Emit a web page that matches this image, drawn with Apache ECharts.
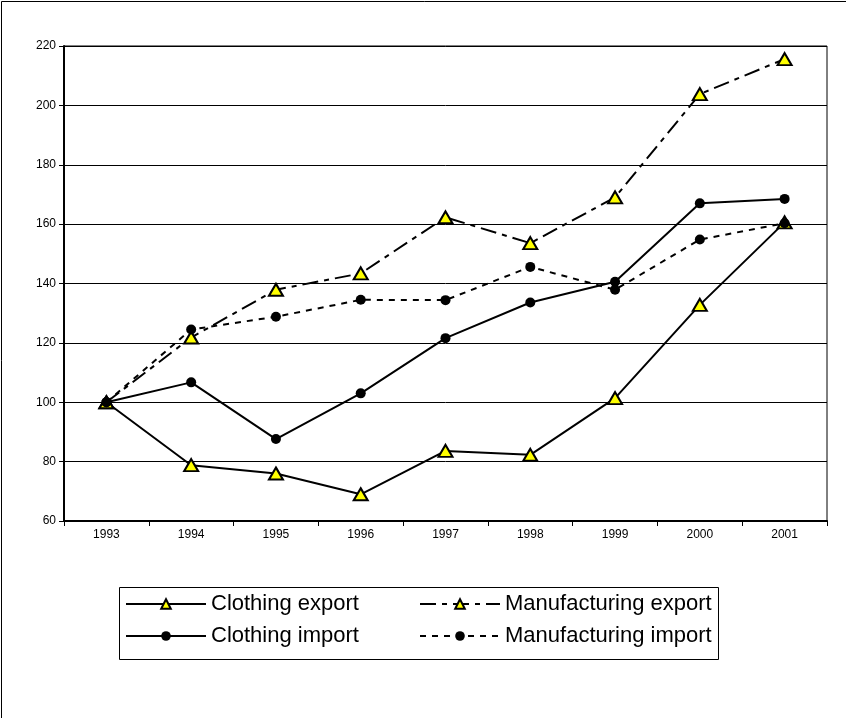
<!DOCTYPE html>
<html>
<head>
<meta charset="utf-8">
<script src="https://cdn.jsdelivr.net/npm/echarts@6/dist/echarts.min.js"></script>
<style>
  html, body { margin: 0; padding: 0; background: #fff; }
  #chart { width: 846px; height: 718px; }
</style>
</head>
<body>
<div id="chart"></div>
<script>
// Index values (1993 = 100)
const years = ['1993', '1994', '1995', '1996', '1997', '1998', '1999', '2000', '2001'];
const clothingExport = [100, 78.8, 76.0, 69.0, 83.6, 82.3, 101.4, 132.8, 160.6];
const manufacturingExport = [100, 121.8, 137.9, 143.4, 162.3, 153.6, 169.0, 203.8, 215.6];
const clothingImport = [100, 106.7, 87.6, 103.0, 121.6, 133.6, 140.6, 167.0, 168.5];
const manufacturingImport = [100, 124.5, 128.8, 134.5, 134.4, 145.6, 137.9, 154.8, 160.3];

const yMin = 60, yMax = 220, yStep = 20;

const FONT = 'Liberation Sans, Arial, sans-serif';

const triangleStyle = { color: '#ffff00', borderColor: '#000', borderWidth: 2 };
const dotStyle = { color: '#000', borderColor: '#000', borderWidth: 0 };

function lineSeries(name, data, symbol, size, itemStyle, dash) {
  return {
    name: name,
    type: 'line',
    data: data,
    symbol: symbol,
    symbolSize: size,
    showAllSymbol: true,
    itemStyle: itemStyle,
    lineStyle: { color: '#000', width: 2, type: dash },
    emphasis: { disabled: true },
    animation: false
  };
}

const series = [
  lineSeries('Clothing export', clothingExport, 'triangle', [14, 12], triangleStyle, 'solid'),
  lineSeries('Manufacturing export', manufacturingExport, 'triangle', [14, 12], triangleStyle, [16, 6, 5, 6]),
  lineSeries('Clothing import', clothingImport, 'circle', 10, dotStyle, 'solid'),
  lineSeries('Manufacturing import', manufacturingImport, 'circle', 10, dotStyle, [6, 6])
];

function legendItem(name, left, top) {
  return {
    data: [name],
    left: left,
    top: top,
    orient: 'horizontal',
    padding: 0,
    itemWidth: 80,
    itemHeight: 12,
    selectedMode: false,
    textStyle: { fontFamily: FONT, fontSize: 22, color: '#000' }
  };
}

const chart = echarts.init(document.getElementById('chart'), null, { renderer: 'canvas' });

chart.setOption({
  backgroundColor: '#fff',
  animation: false,
  textStyle: { fontFamily: FONT },
  grid: {
    left: 64, right: 19, top: 46, bottom: 197,
    show: true, borderColor: '#000', borderWidth: 1, backgroundColor: 'transparent'
  },
  xAxis: {
    type: 'category',
    data: years,
    boundaryGap: true,
    axisLine: { lineStyle: { color: '#000', width: 2 } },
    axisTick: { show: true, interval: 0, length: 5, lineStyle: { color: '#000', width: 1 } },
    axisLabel: { color: '#000', fontSize: 12, fontFamily: FONT, margin: 8, interval: 0 },
    splitLine: { show: false }
  },
  yAxis: {
    type: 'value',
    min: yMin, max: yMax, interval: yStep,
    axisLine: { show: true, lineStyle: { color: '#000', width: 2 } },
    axisTick: { show: true, length: 5, lineStyle: { color: '#000', width: 1 } },
    axisLabel: { color: '#000', fontSize: 12, fontFamily: FONT, margin: 8 },
    splitLine: { show: true, lineStyle: { color: '#000', width: 1 } }
  },
  legend: [
    legendItem('Clothing export', 125, 593),
    legendItem('Manufacturing export', 419, 593),
    legendItem('Clothing import', 125, 625),
    legendItem('Manufacturing import', 419, 625)
  ],
  graphic: [
    // legend frame
    { type: 'rect', shape: { x: 119.5, y: 587.5, width: 599, height: 72 },
      style: { fill: 'none', stroke: '#000', lineWidth: 1 }, z: -1 },
    // chart area frame
    { type: 'rect', shape: { x: 1.5, y: 1.5, width: 900, height: 800 },
      style: { fill: 'none', stroke: '#000', lineWidth: 1 }, z: -1 }
  ],
  series: series
});
</script>
</body>
</html>
